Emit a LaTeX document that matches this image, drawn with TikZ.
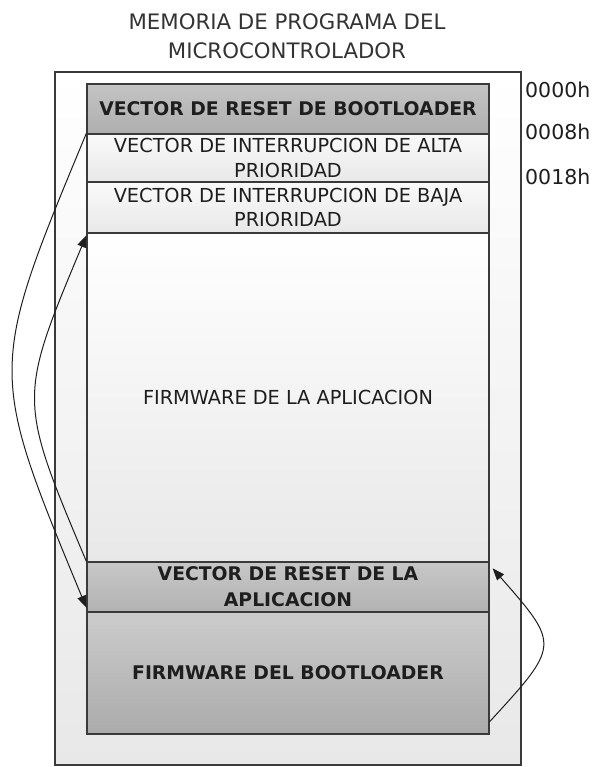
\documentclass[tikz,border=0pt]{standalone}
\usepackage{fontspec}
\setmainfont{DejaVu Sans}
\usetikzlibrary{arrows.meta,calc}
\definecolor{edge}{HTML}{3A3A3A}
\definecolor{ink}{HTML}{1E1E1E}
\begin{document}
\begin{tikzpicture}[x=1pt,y=-1pt,
  outerbox/.style={draw=edge,line width=1.3pt,top color=white,bottom color=black!9,minimum width=466pt,minimum height=693pt,inner sep=0pt},
  cell/.style={draw=edge,line width=1.3pt,minimum width=402pt,inner sep=0pt,align=center,text=ink},
  lightcell/.style={cell,top color=black!2,bottom color=black!9,font=\fontsize{19.3}{24.5}\selectfont},
  darkcell/.style={cell,top color=black!23,bottom color=black!32,font=\fontsize{18.8}{26}\selectfont\bfseries},
  addr/.style={anchor=west,inner sep=0pt,text=ink,font=\fontsize{20.5}{22}\selectfont},
  arr/.style={draw=ink,line width=1pt,-{Triangle[length=12pt,width=9pt]}}
]
\useasboundingbox (0,0) rectangle (592,767);
\node[align=center,text=black!80,font=\fontsize{21.3}{28.5}\selectfont] (title) at (287,36) {MEMORIA DE PROGRAMA DEL\\MICROCONTROLADOR};
\node[outerbox] (outer) at (288,418.5) {};
\node[darkcell,minimum height=50pt] (rbl) at (288,109) {VECTOR DE RESET DE BOOTLOADER};
\node[lightcell,minimum height=48pt] (alta) at (288,158) {VECTOR DE INTERRUPCION DE ALTA\\PRIORIDAD};
\node[lightcell,minimum height=51pt] (baja) at (288,207.5) {VECTOR DE INTERRUPCION DE BAJA\\PRIORIDAD};
\node[lightcell,top color=white,bottom color=black!9,minimum height=329pt] (fwapp) at (288,397.5) {FIRMWARE DE LA APLICACION};
\node[darkcell,top color=black!22,bottom color=black!30,minimum height=50pt] (rapp) at (288,587) {VECTOR DE RESET DE LA\\APLICACION};
\node[darkcell,top color=black!20,bottom color=black!33,minimum height=122pt] (fwbl) at (288,673) {FIRMWARE DEL BOOTLOADER};
\node[addr] (a0) at (525,90) {0000h};
\node[addr] (a8) at (525,131.5) {0008h};
\node[addr] (a18) at (525,176.5) {0018h};
\draw[arr] (alta.north west) .. controls (-12,370) .. ([yshift=5pt]rapp.south west);
\draw[arr] (rapp.north west) .. controls (18,399) .. ([yshift=-3pt]fwapp.north west);
\draw[arr] ([yshift=13pt]fwbl.south east) .. controls (560,645) .. ([shift={(3pt,-7pt)}]rapp.north east);
\end{tikzpicture}
\end{document}
